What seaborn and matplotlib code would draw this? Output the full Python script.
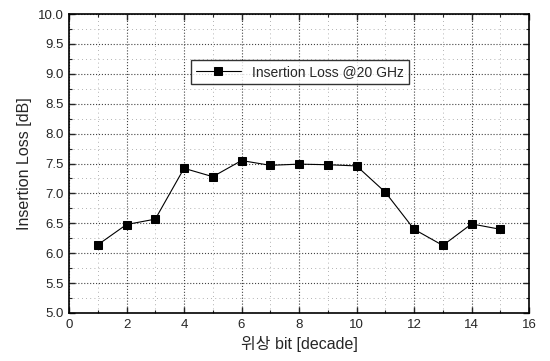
import matplotlib
matplotlib.use("Agg")
import matplotlib.pyplot as plt
import seaborn as sns
import pandas as pd
from matplotlib.ticker import MultipleLocator

# data
bits = [1, 2, 3, 4, 5, 6, 7, 8, 9, 10, 11, 12, 13, 14, 15]
loss = [6.14, 6.48, 6.57, 7.42, 7.28, 7.55, 7.47, 7.49, 7.48, 7.46, 7.02, 6.40, 6.13, 6.49, 6.40]
series_name = "Insertion Loss @20 GHz"

sns.set_theme(style="white")
plt.rcParams["font.family"] = ["Liberation Sans", "Noto Sans CJK KR", "DejaVu Sans"]

df = pd.DataFrame({"bit": bits, "loss": loss, "series": series_name})

fig = plt.figure(figsize=(5.5, 3.61), dpi=100)
ax = fig.add_axes([0.1255, 0.133, 0.8365, 0.828])

sns.lineplot(
    data=df, x="bit", y="loss", hue="series", palette=["black"],
    marker="s", markersize=6, markeredgecolor="black", linewidth=0.8, ax=ax,
)

ax.set_xlim(0, 16)
ax.set_ylim(5.0, 10.0)
ax.xaxis.set_major_locator(MultipleLocator(2))
ax.xaxis.set_minor_locator(MultipleLocator(1))
ax.yaxis.set_major_locator(MultipleLocator(0.5))
ax.yaxis.set_minor_locator(MultipleLocator(0.25))
ax.set_yticks(ax.get_yticks())
ax.set_yticklabels([f"{v:.1f}" for v in ax.get_yticks()])
ax.set_ylim(5.0, 10.0)

ax.grid(which="major", color="#444444", linestyle=":", linewidth=0.8)
ax.grid(which="minor", color="#999999", linestyle=(0, (1, 4)), linewidth=0.6)
ax.set_axisbelow(True)

ax.tick_params(which="both", direction="in", top=True, right=True, bottom=True, left=True)
ax.tick_params(which="major", length=4, width=1.0, labelsize=9.5, pad=4)
ax.tick_params(which="minor", length=2, width=0.8)
for s in ax.spines.values():
    s.set_color("black")
    s.set_linewidth(1.2)

ax.set_xlabel("위상 bit [decade]", fontsize=11.5)
ax.set_ylabel("Insertion Loss [dB]", fontsize=11.5)

leg = ax.legend(loc="center", bbox_to_anchor=(0.502, 0.806), fontsize=10,
                frameon=True, fancybox=False, edgecolor="black", handlelength=3.2,
                borderpad=0.35, borderaxespad=0)
leg.get_frame().set_linewidth(1.0)

fig.savefig("out.png", dpi=100)
